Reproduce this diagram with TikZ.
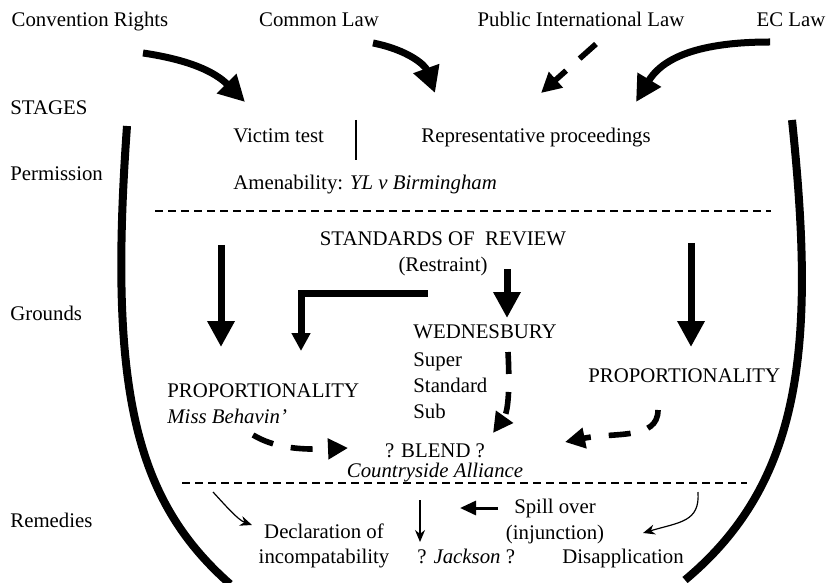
\documentclass[tikz,border=0pt]{standalone}
\usepackage{fontspec}
\setmainfont{Liberation Serif}
\usepackage{tikz}
\usetikzlibrary{positioning}
\usetikzlibrary{arrows.meta}
\tikzset{	node distance=13pt,
	every node/.style={
		inner sep=0pt,
		font=\fontsize{10.4}{12.5}\selectfont},
	txt/.style={anchor=base},
	txtl/.style={anchor=base west},
	heavy/.style={
		line width=3.5pt,
		-{Triangle[length=13pt,width=13pt]}},
	heavysmall/.style={
		line width=3.5pt,
		-{Triangle[length=9pt,width=9pt]}},
	broken/.style={
		line width=2.8pt,
		dash pattern=on 11pt off 9pt,
		-{Triangle[length=10pt,width=10pt]}},
	slim/.style={
		line width=0.6pt,
		-{Stealth[length=6pt,width=5pt]}},
	spillarrow/.style={
		line width=1.5pt,
		-{Triangle[length=8pt,width=7pt]}},
	rim/.style={line width=4pt},
	divider/.style={line width=0.7pt, dash pattern=on 4pt off 2.5pt}
}
\begin{document}
\begin{tikzpicture}[x=0.5pt,y=-0.5pt]
				\useasboundingbox (0,0) rectangle (838,582);
				% sources
				\node[txt] (conv) at (90,27) {Convention Rights};
				\node[txt] (comm) at (319,27) {Common Law};
				\node[txt] (pil) at (581,27) {Public International Law};
				\node[txt] (ec) at (791,27) {EC Law};
				% stages
				\node[txtl] (stages) at (10,115) {STAGES};
				\node[txtl] (perm) at (10,181) {Permission};
				\node[txtl] (grounds) at (10,320) {Grounds};
				\node[txtl] (remedies) at (10,527) {Remedies};
				% permission
				\node[txtl] (victim) at (233,143) {Victim test};
				\node[txtl] (repr) at (421,143) {Representative proceedings};
				\node[txtl] (amen) at (233,190) {Amenability: \textit{YL v Birmingham}};
				% grounds
				\node[txt] (sor) at (443,245) {STANDARDS OF \ REVIEW};
				\node[txt, below=of sor.base, anchor=base] (restr) {(Restraint)};
				\node[txtl] (wed) at (413,338) {WEDNESBURY};
				\node[txtl, below=14pt of wed.base west, anchor=base west] (super) {Super};
				\node[txtl, below=of super.base west, anchor=base west] (standard) {Standard};
				\node[txtl, below=of standard.base west, anchor=base west] (sub) {Sub};
				\node[txt] (blend) at (435,457) {? BLEND ?};
				\node[txt, below=10pt of blend.base, anchor=base] (ctry) {\textit{Countryside Alliance}};
				\node[txtl] (propl) at (167,397) {PROPORTIONALITY};
				\node[txtl, below=of propl.base west, anchor=base west] (miss) {\textit{Miss Behavin'}};
				\node[txtl] (propr) at (588,382) {PROPORTIONALITY};
				% remedies
				\node[txt] (decl) at (324,538) {Declaration of};
				\node[txt, below=12.5pt of decl.base, anchor=base] (incomp) {incompatability};
				\node[txtl] (jackson) at (417,563) {? \textit{Jackson} ?};
				\node[txt] (spill) at (555,513) {Spill over};
				\node[txt, below=of spill.base, anchor=base] (injunc) {(injunction)};
				\node[txt] (disapp) at (623,563) {Disapplication};
				% arrow ends
				\coordinate (conv-s) at (143,53);
				\coordinate (conv-e) at (245,102);
				\coordinate (comm-s) at (373,43);
				\coordinate (comm-e) at (435,93);
				\coordinate (pil-s) at (596,44);
				\coordinate (pil-e) at (541,93);
				\coordinate (ec-s) at (770,42);
				\coordinate (ec-e) at (636,102);
				\coordinate (gl-s) at (221,245);
				\coordinate (gl-e) at (221,347);
				\coordinate (el-s) at (428,293);
				\coordinate (el-e) at (301,351);
				\coordinate (rs-s) at (507,269);
				\coordinate (rs-e) at (507,318);
				\coordinate (gr-s) at (691,243);
				\coordinate (gr-e) at (691,347);
				\coordinate (wd-s) at (508,352);
				\coordinate (wd-e) at (493,433);
				\coordinate (pr-s) at (658,410);
				\coordinate (pr-e) at (565,442);
				\coordinate (mb-s) at (253,435);
				\coordinate (mb-e) at (348,448);
				\coordinate (dl-s) at (213,492);
				\coordinate (dl-e) at (252,525);
				\coordinate (jk-s) at (420,500);
				\coordinate (jk-e) at (420,542);
				\coordinate (sp-s) at (498,508);
				\coordinate (sp-e) at (460,508);
				\coordinate (da-s) at (698,492);
				\coordinate (da-e) at (643,533);
				% arrows
				\draw[heavy] (conv-s) .. controls (190,60) and (215,72) .. (conv-e);
				\draw[heavy] (comm-s) .. controls (408,50) and (425,65) .. (comm-e);
				\draw[broken] (pil-s) -- (pil-e);
				\draw[heavy] (ec-s) .. controls (690,42) and (660,62) .. (ec-e);
				\draw[heavy] (gl-s) -- (gl-e);
				\draw[heavysmall] (el-s) -| (el-e);
				\draw[heavy] (rs-s) -- (rs-e);
				\draw[heavy] (gr-s) -- (gr-e);
				\draw[broken] (wd-s) .. controls (510,390) and (508,412) .. (wd-e);
				\draw[broken] (pr-s) .. controls (658,440) and (615,432) .. (pr-e);
				\draw[broken] (mb-s) .. controls (275,448) and (300,450) .. (mb-e);
				\draw[slim] (dl-s) .. controls (225,505) and (238,520) .. (dl-e);
				\draw[slim] (jk-s) -- (jk-e);
				\draw[spillarrow] (sp-s) -- (sp-e);
				\draw[slim] (da-s) .. controls (700,522) and (680,522) .. (da-e);
				% brackets and dividers
				\draw[rim] (127,126) .. controls (108,390) and (135,500) .. (230,584);
				\draw[rim] (792,120) .. controls (815,340) and (805,480) .. (685,580);
				\draw[divider] (155,211) -- (771,211);
				\draw[divider] (182,483) -- (747,483);
				\draw[line width=0.6pt] (356,120) -- (356,160);
			\end{tikzpicture}
\end{document}
